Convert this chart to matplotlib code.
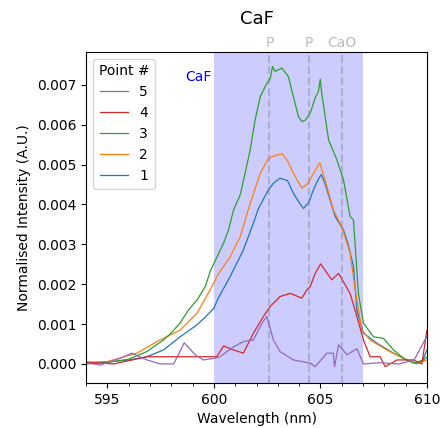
import matplotlib

matplotlib.use("Agg")
import matplotlib.pyplot as plt
from matplotlib.ticker import MultipleLocator

# wavelength (nm) / normalised intensity, per point
wl_1 = [594.0, 595.0, 596.0, 596.85, 597.63, 598.41, 599.2, 599.6, 600.0, 600.2,
        600.76, 601.38, 601.85, 602.09, 602.56, 602.79, 603.1, 603.45,
        603.73, 604.0, 604.2, 604.45, 604.67, 604.85, 605.03, 605.2, 605.69,
        606.08, 606.3, 606.55, 606.71, 607.02, 607.65, 608.43, 609.05, 609.53,
        609.8, 610.0]
val_1 = [0.00003, 0.00005, 0.0001, 0.00018, 0.00035, 0.00068, 0.00098, 0.00118,
         0.0014, 0.00165, 0.00219, 0.00286, 0.00353, 0.0039, 0.00437,
         0.00453, 0.00466, 0.0046, 0.00428, 0.00405, 0.0039, 0.00405, 0.00437,
         0.00458, 0.00475, 0.00455, 0.0037, 0.00336, 0.003, 0.00244, 0.00135,
         0.00077, 0.00052, 0.00027, 0.0001, 0.0, 0.0001, 0.00035]

wl_2 = [594.0, 595.0, 596.38, 597.32, 598.41, 599.2, 599.82, 600.2, 600.76,
        601.23, 601.7, 602.17, 602.56, 602.95, 603.19, 603.45, 603.73, 604.13,
        604.4, 604.67, 604.97, 605.3, 605.61, 606.0, 606.39, 606.63,
        606.94, 607.33, 608.11, 608.9, 609.53, 610.0]
val_2 = [0.00002, 0.00006, 0.00027, 0.00056, 0.00085, 0.00127, 0.00186,
         0.00225, 0.00269, 0.00319, 0.00403, 0.00478, 0.00516, 0.00524, 0.00527,
         0.0051, 0.00478, 0.00441, 0.00452, 0.00478, 0.00505, 0.00445, 0.00386,
         0.00344, 0.00278, 0.00186, 0.00085, 0.0006, 0.00035, 0.00014,
         0.00002, 0.0001]

wl_3 = [594.0, 594.5, 595.3, 596.0, 596.85, 597.3, 597.63, 598.0, 598.41, 598.8,
        599.2, 599.6, 599.82, 600.45, 600.68, 600.92, 601.23, 601.46, 601.7,
        601.93, 602.17, 602.48, 602.64, 602.75, 602.87, 603.19, 603.5,
        603.73, 603.97, 604.13, 604.3, 604.52, 604.75, 604.9, 604.99, 605.06,
        605.38, 605.77, 606.08, 606.39, 606.55, 606.78, 607.02, 607.49, 607.96,
        608.43, 608.9, 609.37, 609.84, 610.0]
val_3 = [0.0, 0.00002, 0.00006, 0.00012, 0.00031, 0.00048, 0.0006, 0.00078,
         0.00103, 0.00135, 0.0016, 0.00195, 0.00232, 0.00303, 0.00336, 0.00386,
         0.00424, 0.00478, 0.00537, 0.00612, 0.0067, 0.00704, 0.00716, 0.00746,
         0.00734, 0.00742, 0.0072, 0.0067, 0.0062, 0.00608, 0.00612,
         0.00629, 0.00667, 0.00683, 0.00714, 0.00679, 0.00562, 0.00512, 0.00462,
         0.0037, 0.00361, 0.00177, 0.00102, 0.00068, 0.00064, 0.00035, 0.00014,
         0.00002, 0.0001, 0.00018]

wl_4 = [594.0, 595.3, 596.85, 598.41, 600.13, 600.45, 600.92, 601.38, 601.85,
        602.32, 602.64, 603.1, 603.58, 604.13, 604.36, 604.52, 604.75, 605.01,
        605.53, 605.85, 606.39, 606.71, 607.02, 607.33, 607.8, 608.04,
        608.59, 609.37, 609.76, 610.0]
val_4 = [0.00005, 0.0, 0.00018, 0.00018, 0.00018, 0.00045, 0.00035, 0.00027,
         0.00077, 0.00119, 0.00144, 0.00169, 0.00177, 0.00165, 0.00186,
         0.00194, 0.00227, 0.00251, 0.00211, 0.00227, 0.00177, 0.00119, 0.0006,
         0.00018, 0.00018, -0.00007, 0.0001, 0.0001, 0.0, 0.00085]

wl_5 = [594.0, 594.66, 595.6, 596.14, 596.85, 597.47, 598.1, 598.33, 598.6,
        599.12, 599.5, 600.0, 600.28, 600.92, 601.38, 601.85, 602.25, 602.48,
        602.79, 603.1, 603.73, 604.52, 604.75, 605.3, 605.6, 605.66, 605.85,
        606.24, 606.71, 607.02, 607.8, 608.7, 609.4, 610.0]
val_5 = [0.00003, -0.00003, 0.00014, 0.00027, 0.0001, 0.0, 0.0, 0.00023, 0.00053,
         0.00023, 0.0001, 0.00014, 0.00018, 0.00043, 0.00056, 0.0006, 0.00102,
         0.00119, 0.0006, 0.00031, 0.0001, 0.00002, -0.00007, 0.00027, 0.00027,
         -0.00007, 0.00048, 0.00023, 0.00038, 0.0, 0.00003, 0.0, 0.0001, 0.0007]

point_ids = ["1", "2", "3", "4", "5"]
band_range = (600.0, 607.0)
line_names = ["P", "P", "CaO"]
line_wl = [602.6, 604.45, 606.0]

series = [(wl_1, val_1), (wl_2, val_2), (wl_3, val_3), (wl_4, val_4), (wl_5, val_5)]

fig = plt.figure(figsize=(4.42, 4.28), dpi=100)
ax = fig.add_axes([0.195, 0.105, 0.771, 0.774])

ax.axvspan(*band_range, color="blue", alpha=0.2, lw=0)
ax.text(band_range[0] - 0.1, 0.0072, "CaF", color="blue", ha="right",
        va="center", fontsize=10)

handles = []
for i, (pid, (wl, val)) in enumerate(zip(point_ids, series)):
    (h,) = ax.plot(wl, val, color=f"C{i}", lw=0.9, label=pid)
    handles.append(h)

for name, w in zip(line_names, line_wl):
    ax.axvline(w, color="grey", ls="--", lw=1.5, alpha=0.4)
    ax.text(w, 1.005, name, transform=ax.get_xaxis_transform(), ha="center",
            va="bottom", color="#bbbbbb", fontsize=10)

ax.set_xlim(594, 610)
ax.set_ylim(-0.00048, 0.00783)
ax.xaxis.set_major_locator(MultipleLocator(5))
ax.xaxis.set_minor_locator(MultipleLocator(1))
ax.yaxis.set_major_locator(MultipleLocator(0.001))
ax.yaxis.set_major_formatter(plt.FormatStrFormatter("%.3f"))
ax.set_xlabel("Wavelength (nm)")
ax.set_ylabel("Normalised Intensity (A.U.)")
ax.set_title("CaF", pad=20, fontsize=13)

ax.legend(handles=handles[::-1], title="Point #", loc="upper left")

fig.savefig("out.png", dpi=100)
